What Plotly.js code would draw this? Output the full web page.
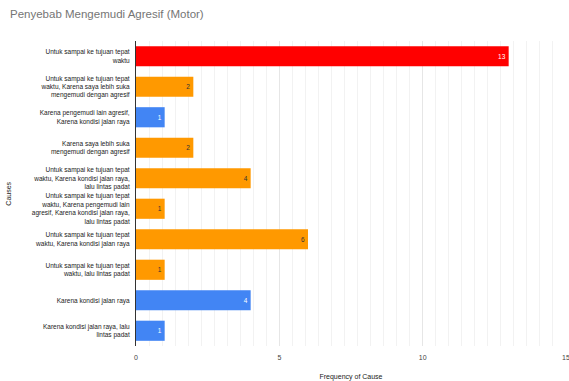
<!DOCTYPE html>
<html>
<head>
<meta charset="utf-8">
<script src="https://cdn.plot.ly/plotly-3.0.1.min.js"></script>
<style>html,body{margin:0;padding:0;background:#fff;}#chart{width:569px;height:381px;}</style>
</head>
<body>
<div id="chart"></div>
<script>
const causes = [
  "Untuk sampai ke tujuan tepat<br>waktu",
  "Untuk sampai ke tujuan tepat<br>waktu, Karena saya lebih suka<br>mengemudi dengan agresif",
  "Karena pengemudi lain agresif,<br>Karena kondisi jalan raya",
  "Karena saya lebih suka<br>mengemudi dengan agresif",
  "Untuk sampai ke tujuan tepat<br>waktu, Karena kondisi jalan raya,<br>lalu lintas padat",
  "Untuk sampai ke tujuan tepat<br>waktu, Karena pengemudi lain<br>agresif, Karena kondisi jalan raya,<br>lalu lintas padat",
  "Untuk sampai ke tujuan tepat<br>waktu, Karena kondisi jalan raya",
  "Untuk sampai ke tujuan tepat<br>waktu, lalu lintas padat",
  "Karena kondisi jalan raya",
  "Karena kondisi jalan raya, lalu<br>lintas padat"
];
const frequency = [13, 2, 1, 2, 4, 1, 6, 1, 4, 1];
const barColors = ["#ff0000", "#ff9900", "#4285f4", "#ff9900", "#ff9900", "#ff9900", "#ff9900", "#ff9900", "#4285f4", "#4285f4"];
const labelColors = ["#ffffff", "#333333", "#ffffff", "#333333", "#333333", "#333333", "#333333", "#333333", "#ffffff", "#ffffff"];
const xTicks = [0, 5, 10, 15];
const chartTitle = "Penyebab Mengemudi Agresif (Motor)";
const xTitle = "Frequency of Cause";
const yTitle = "Causes";

const trace = {
  type: "bar",
  orientation: "h",
  y: causes,
  x: frequency,
  marker: {color: barColors, line: {width: 0}},
  text: frequency.map(String),
  textposition: "inside",
  insidetextanchor: "end",
  textfont: {family: "Liberation Sans, Arial, sans-serif", size: 6.5, color: labelColors},
  cliponaxis: false,
  hoverinfo: "none"
};

const layout = {
  width: 569, height: 381,
  margin: {l: 136, r: 2.5, t: 41, b: 35},
  paper_bgcolor: "#ffffff", plot_bgcolor: "#ffffff",
  font: {family: "Liberation Sans, Arial, sans-serif", color: "#222222"},
  showlegend: false,
  bargap: 0.34,
  title: {text: chartTitle, x: 0, xref: "container", xanchor: "left", y: 1, yref: "container", yanchor: "top",
          pad: {l: 10, t: 10}, font: {size: 11.5, color: "#757575", family: "Liberation Sans, Arial, sans-serif"}},
  xaxis: {
    range: [0, 15], tickvals: xTicks, ticktext: xTicks.map(String),
    showgrid: true, gridcolor: "#e6e6e6", gridwidth: 1,
    minor: {dtick: 5/11, showgrid: true, gridcolor: "#f2f2f2", gridwidth: 1},
    zeroline: false, showline: false, ticks: "",
    ticklabelstandoff: 6, ticklabeloverflow: "allow",
    tickfont: {size: 7, color: "#444444"},
    title: {text: xTitle, font: {size: 7, color: "#222222"}, standoff: 14},
    automargin: false, fixedrange: true
  },
  yaxis: {
    type: "category", autorange: "reversed",
    showgrid: false, zeroline: false,
    showline: true, linecolor: "#333333", linewidth: 1,
    ticks: "", ticklabelstandoff: 4,
    tickfont: {size: 6.5, color: "#222222"},
    automargin: false, fixedrange: true
  },
  annotations: [{
    text: yTitle, xref: "paper", yref: "paper", x: -128/430.5, y: 0.5,
    xanchor: "center", yanchor: "middle", showarrow: false, textangle: -90,
    font: {size: 7, color: "#222222"}
  }]
};

Plotly.newPlot("chart", [trace], layout, {displayModeBar: false, staticPlot: true});
</script>
</body>
</html>
